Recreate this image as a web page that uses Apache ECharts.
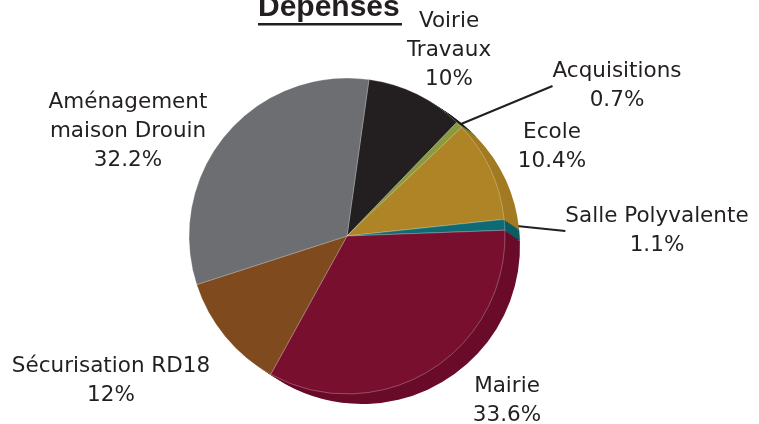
<!DOCTYPE html>
<html>
<head>
<meta charset="utf-8">
<script src="https://cdn.jsdelivr.net/npm/echarts@6/dist/echarts.min.js"></script>
<style>
html, body { margin: 0; padding: 0; background: #fff; }
#main { width: 759px; height: 424px; }
</style>
</head>
<body>
<div id="main"></div>
<script>
var chartTitle = 'Dépenses';
var categories = ['Voirie\nTravaux', 'Acquisitions', 'Ecole', 'Salle Polyvalente', 'Mairie', 'Sécurisation RD18', 'Aménagement\nmaison Drouin'];
var values = [10, 0.7, 10.4, 1.1, 33.6, 12, 32.2];

var colors = ['#231f20', '#8b9a3b', '#ae8427', '#0f6b73', '#780f2f', '#7e4a1e', '#6d6e71'];
// side (depth) of the tilted pie, only seen on the lower right
var sideColors = ['#1a1718', '#75832f', '#a27a22', '#0b5c63', '#690b29', '#6b3e18', '#5d5e61'];
// label centres
var labelSpots = [[449, 50], [617, 86], [552, 147], [657, 231], [507, 401], [111, 381], [128, 131]];

var myChart = echarts.init(document.getElementById('main'));

var faceCenter = [347, 236];
var depth = [15, 10];
var steps = 8;

var faceData = [], sideData = [];
for (var i = 0; i < categories.length; i++) {
    faceData.push({
        name: categories[i],
        value: values[i],
        itemStyle: { color: colors[i] },
        labelLine: { show: i === 1 || i === 3 }
    });
    sideData.push({
        name: categories[i],
        value: values[i],
        itemStyle: { color: sideColors[i] }
    });
}

var series = [];
// stacked copies, back to front, make the extruded side
for (var s = steps; s >= 1; s--) {
    series.push({
        type: 'pie',
        silent: true,
        center: [faceCenter[0] + depth[0] * s / steps, faceCenter[1] + depth[1] * s / steps],
        radius: 158,
        startAngle: 82,
        label: { show: false },
        labelLine: { show: false },
        itemStyle: { borderWidth: 0 },
        data: sideData
    });
}
series.push({
    type: 'pie',
    center: faceCenter,
    radius: 158,
    startAngle: 82,
    clockwise: true,
    avoidLabelOverlap: false,
    itemStyle: {
        borderColor: 'rgba(255,255,255,0.45)',
        borderWidth: 0.6
    },
    label: {
        show: true,
        position: 'outside',
        formatter: '{b}\n{c}%',
        color: '#231f20',
        fontFamily: '"DejaVu Sans", sans-serif',
        fontSize: 21.5,
        lineHeight: 29,
        align: 'center'
    },
    labelLine: {
        length: 10,
        length2: 0,
        lineStyle: { color: '#231f20', width: 2 }
    },
    labelLayout: function (params) {
        var p = labelSpots[params.dataIndex];
        return {
            x: p[0],
            y: p[1],
            align: 'center',
            verticalAlign: 'middle'
        };
    },
    data: faceData
});

var option = {
    backgroundColor: '#fff',
    animation: false,
    graphic: [
        {
            type: 'text',
            left: 258,
            top: -7,
            style: {
                text: chartTitle,
                fill: '#231f20',
                font: 'bold 30px "Liberation Sans", Arial, sans-serif'
            }
        },
        {
            type: 'rect',
            shape: { x: 258, y: 23, width: 144, height: 2.5 },
            style: { fill: '#231f20' }
        }
    ],
    series: series
};

myChart.setOption(option);
</script>
</body>
</html>
